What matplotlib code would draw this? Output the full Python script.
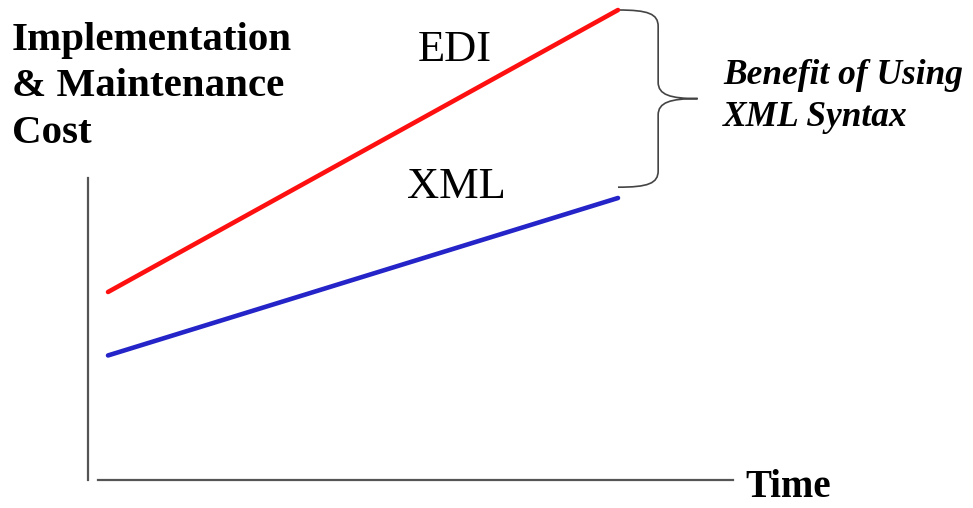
import matplotlib.pyplot as plt
from matplotlib.path import Path
from matplotlib.patches import PathPatch

# Conceptual cost over time, arbitrary units
time = [1.0, 9.0]
edi_cost = [4.0, 10.0]
xml_cost = [2.65, 6.0]

series_labels = ['EDI', 'XML']
y_label = 'Implementation\n& Maintenance\nCost'
x_label = 'Time'
brace_label = 'Benefit of Using\nXML Syntax'

W, H = 973, 508
fig = plt.figure(figsize=(W / 100, H / 100), dpi=100)
fig.patch.set_facecolor('white')

# axes box: left spine at 88px, baseline at 480px, right edge 733px, top 10px
ax = fig.add_axes([88 / W, (H - 480) / H, (733 - 88) / W, (480 - 10) / H])
ax.set_xlim(0.686, 10.804)
ax.set_ylim(0, 10)
ax.set_xticks([])
ax.set_yticks([])
for side in ['top', 'right']:
    ax.spines[side].set_visible(False)
ax.spines['left'].set_bounds(0, 6.43)
ax.spines['bottom'].set_bounds(0.843, 10.804)
for side in ['left', 'bottom']:
    ax.spines[side].set_color('#555555')
    ax.spines[side].set_linewidth(1.6)

ax.plot(time, edi_cost, color='#ff1010', lw=3.3, solid_capstyle='round', clip_on=False)
ax.plot(time, xml_cost, color='#2424c8', lw=3.3, solid_capstyle='round', clip_on=False)

serif = ['Liberation Serif', 'DejaVu Serif']
ax.text(6.44, 8.91, series_labels[0], family=serif, fontsize=32, ha='center', va='baseline')
ax.text(6.47, 6.0, series_labels[1], family=serif, fontsize=32, ha='center', va='baseline')

# curly brace spanning the gap between the two line ends
x0 = time[-1]
top = edi_cost[-1]
bot = xml_cost[-1] + 0.23
mid = (top + bot) / 2
dx = 0.63      # depth of the brace arms
tip = 1.25     # how far the point sticks out
r = 0.35       # corner rounding (cost units)
verts = [
    (x0, top),
    (x0 + dx * 0.75, top), (x0 + dx, top - 0.08), (x0 + dx, top - r),
    (x0 + dx, mid + r),
    (x0 + dx, mid + 0.08), (x0 + dx * 1.3, mid), (x0 + tip, mid),
    (x0 + dx * 1.3, mid), (x0 + dx, mid - 0.08), (x0 + dx, mid - r),
    (x0 + dx, bot + r),
    (x0 + dx, bot + 0.08), (x0 + dx * 0.75, bot), (x0, bot),
]
codes = [Path.MOVETO,
         Path.CURVE4, Path.CURVE4, Path.CURVE4,
         Path.LINETO,
         Path.CURVE4, Path.CURVE4, Path.CURVE4,
         Path.CURVE4, Path.CURVE4, Path.CURVE4,
         Path.LINETO,
         Path.CURVE4, Path.CURVE4, Path.CURVE4]
ax.add_patch(PathPatch(Path(verts, codes), fill=False, edgecolor='#444444',
                       lw=1.2, clip_on=False))

# multi-line text: va='baseline' anchors the last line
fig.text(12 / W, 1 - 143 / H, y_label, family=serif, fontsize=29.5,
         fontweight='bold', ha='left', va='baseline', linespacing=1.34)
fig.text(745 / W, 1 - 497 / H, x_label, family=serif, fontsize=28,
         fontweight='bold', ha='left', va='baseline')
fig.text(723 / W, 1 - 126 / H, brace_label, family=serif, fontsize=25.5,
         fontweight='bold', style='italic', ha='left', va='baseline',
         linespacing=1.38)

fig.savefig('out.png', dpi=100, facecolor='white')
